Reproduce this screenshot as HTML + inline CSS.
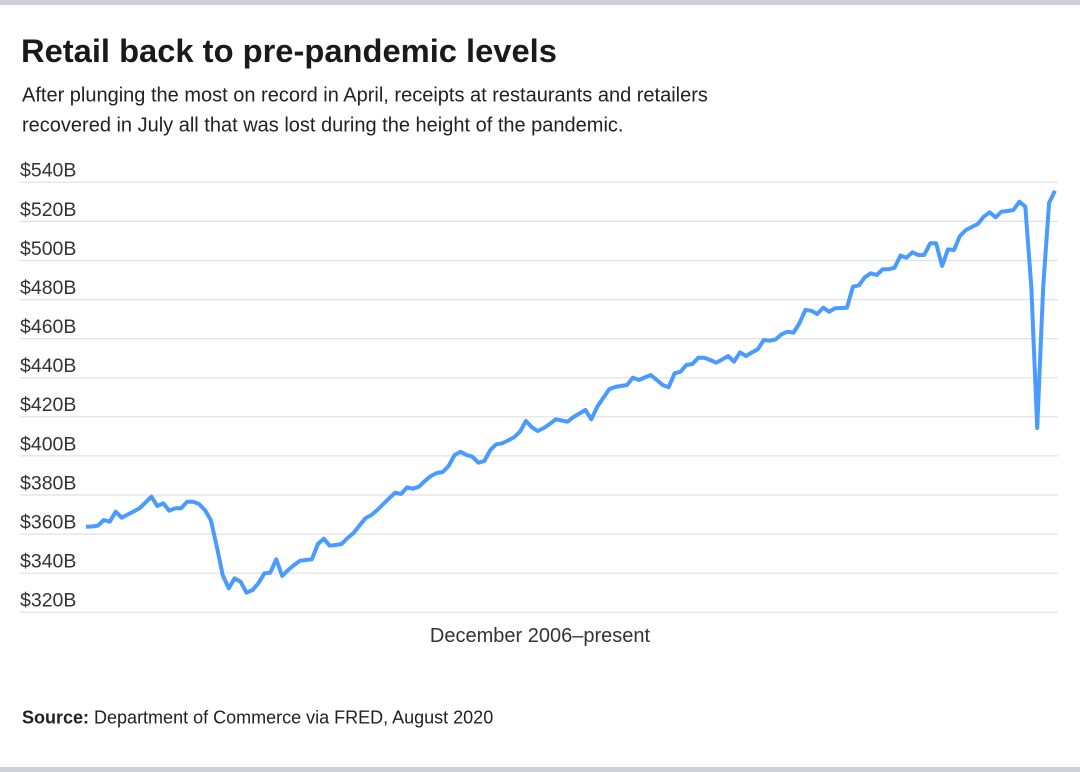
<!DOCTYPE html>
<html>
<head>
<meta charset="utf-8">
<style>
  html,body{margin:0;padding:0;background:#fff;}
  body{width:1080px;height:772px;overflow:hidden;}
  svg{display:block;}
  text{font-family:"Liberation Sans", Arial, sans-serif;}
</style>
</head>
<body>
<svg width="1080" height="772" viewBox="0 0 1080 772" xmlns="http://www.w3.org/2000/svg">
  <rect x="0" y="0" width="1080" height="772" fill="#ffffff"/>
  <rect x="0" y="0" width="1080" height="5" fill="#cdd0d9"/>
  <rect x="0" y="767" width="1080" height="5" fill="#cdd0d9"/>

  <text x="21" y="62" font-size="32.7" font-weight="bold" fill="#1a1a1a">Retail back to pre-pandemic levels</text>
  <text x="22" y="101.7" font-size="20" fill="#222">After plunging the most on record in April, receipts at restaurants and retailers</text>
  <text x="22" y="131.7" font-size="20" fill="#222">recovered in July all that was lost during the height of the pandemic.</text>

  <g stroke="#e0e0e6" stroke-width="1.2">
    <line x1="20" x2="1058" y1="182.3" y2="182.3"/>
    <line x1="20" x2="1058" y1="221.4" y2="221.4"/>
    <line x1="20" x2="1058" y1="260.5" y2="260.5"/>
    <line x1="20" x2="1058" y1="299.6" y2="299.6"/>
    <line x1="20" x2="1058" y1="338.7" y2="338.7"/>
    <line x1="20" x2="1058" y1="377.8" y2="377.8"/>
    <line x1="20" x2="1058" y1="416.8" y2="416.8"/>
    <line x1="20" x2="1058" y1="455.9" y2="455.9"/>
    <line x1="20" x2="1058" y1="495.0" y2="495.0"/>
    <line x1="20" x2="1058" y1="534.1" y2="534.1"/>
    <line x1="20" x2="1058" y1="573.2" y2="573.2"/>
    <line x1="20" x2="1058" y1="612.3" y2="612.3"/>
  </g>

  <g font-size="19.5" fill="#333">
    <text x="20" y="176.7">$540B</text>
    <text x="20" y="215.8">$520B</text>
    <text x="20" y="254.9">$500B</text>
    <text x="20" y="294.0">$480B</text>
    <text x="20" y="333.1">$460B</text>
    <text x="20" y="372.2">$440B</text>
    <text x="20" y="411.2">$420B</text>
    <text x="20" y="450.3">$400B</text>
    <text x="20" y="489.4">$380B</text>
    <text x="20" y="528.5">$360B</text>
    <text x="20" y="567.6">$340B</text>
    <text x="20" y="606.7">$320B</text>
  </g>

  <polyline fill="none" stroke="#4a9bff" stroke-width="4" stroke-linejoin="round" stroke-linecap="butt" points="
86.0,526.7 91.9,526.5 97.9,525.7 103.8,520 109.8,521.7 115.7,511.7 121.7,517.7 127.6,514.6 133.6,511.5 139.5,508.3
145.5,502.5 151.4,496.7 157.3,506 163.3,503.3 169.2,510.7 175.2,508.3 181.1,508.3 187.1,501.7 193.0,501.7 199.0,504
204.9,510 210.8,520 216.8,546.7 222.7,575 228.7,588.3 234.6,578.3 240.6,581.7 246.5,592.7 252.5,590 258.4,583.3
264.4,573.3 270.3,572.7 276.2,559.3 282.2,576 288.1,570 294.1,565 300.0,560.7 306.0,560 311.9,559.3 317.9,544
323.8,538.7 329.7,545.7 335.7,545 341.6,544 347.6,538 353.5,533 359.5,525.5 365.4,518.3 371.4,515 377.3,510
383.3,504 389.2,498.3 395.1,492.7 401.1,494 407.0,487.3 413.0,488.7 418.9,486.7 424.9,481 430.8,476 436.8,473
442.7,472 448.6,466 454.6,455 460.5,451.7 466.5,455 472.4,456.7 478.4,462.7 484.3,461 490.3,450 496.2,444.3
502.2,443.3 508.1,440.5 514.0,437.3 520.0,431.7 525.9,421 531.9,427.3 537.8,431 543.8,428 549.7,424 555.7,419.3
561.6,420.5 567.5,421.7 573.5,417 579.4,413.5 585.4,410 591.3,419.3 597.3,406.7 603.2,398 609.2,389.3 615.1,387
621.1,386 627.0,385 632.9,377.7 638.9,380 644.8,377.5 650.8,375 656.7,380 662.7,385 668.6,387.3 674.6,373.3
680.5,371.7 686.4,365 692.4,364 698.3,357.7 704.3,357.7 710.2,360 716.2,362.7 722.1,359.5 728.1,356 734.0,361.7
740.0,352.3 745.9,356 751.8,352.5 757.8,349.3 763.7,340 769.7,340.7 775.6,339.5 781.6,334.3 787.5,331.7 793.5,332.7
799.4,323.3 805.3,310 811.3,310.7 817.2,314 823.2,307.7 829.1,311.7 835.1,308.3 841.0,308 847.0,307.7 852.9,286.7
858.9,285.3 864.8,277.3 870.7,273.3 876.7,275 882.6,269.3 888.6,269.3 894.5,267.7 900.5,255.5 906.4,257.7 912.4,252.3
918.3,255 924.2,255 930.2,243.3 936.1,243.3 942.1,266 948.0,249.3 954.0,250 959.9,236 965.9,230 971.8,227
977.8,224 983.7,216.7 989.6,212.3 995.6,217.3 1001.5,211.7 1007.5,211 1013.4,210 1019.4,201.7 1025.3,206.7 1031.3,286.7
1037.2,428 1043.2,286.7 1049.1,202.7 1055.0,190.7"/>

  <text x="540" y="642" font-size="20" fill="#333" text-anchor="middle">December 2006–present</text>

  <text x="22" y="723.3" font-size="18" fill="#222"><tspan font-weight="bold">Source:</tspan> Department of Commerce via FRED, August 2020</text>
</svg>
</body>
</html>
